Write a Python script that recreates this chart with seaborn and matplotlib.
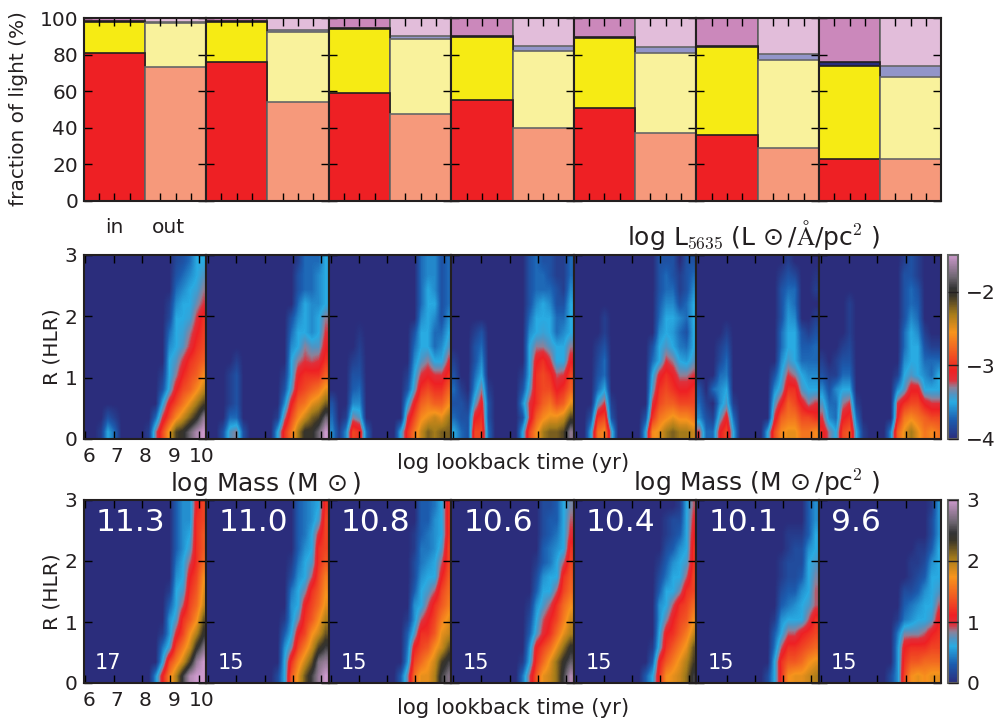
import matplotlib
matplotlib.use("Agg")
import matplotlib.pyplot as plt
import seaborn as sns
import numpy as np
from matplotlib.colors import LinearSegmentedColormap
from matplotlib.transforms import ScaledTranslation

# top row, cumulative top of each stacked class in %, one value per panel
RED_IN = [81, 76, 59, 55, 51, 36, 23]
YELLOW_IN = [98, 97.8, 94, 89.5, 89, 84, 74]
BLUE_IN = [98.4, 98.2, 94.6, 90.2, 89.8, 84.8, 76]
RED_OUT = [73, 54, 47.5, 40, 37, 29, 23]
YELLOW_OUT = [97, 92.3, 88.5, 82, 81, 77, 68]
BLUE_OUT = [97.6, 93.6, 90, 84.5, 84, 80.5, 74]
TOP = [100, 100, 100, 100, 100, 100, 100]

# log mass of each panel and number of galaxies
LOG_MASS = ["11.3", "11.0", "10.8", "10.6", "10.4", "10.1", "9.6"]
N_GAL = ["17", "15", "15", "15", "15", "15", "15"]

# log L maps, tenths of dex above -4, rows go up in R, columns go up in log age
L_1 = [
    [0,0,1,5,3,0,0,0,0,1,7,11,15,19,20,22,24,25],
    [0,0,0,2,1,0,0,0,0,0,3,8,11,14,16,18,20,23],
    [0,0,0,0,0,0,0,0,0,0,0,5,9,11,13,15,17,19],
    [0,0,0,0,0,0,0,0,0,0,0,2,5.5,9,11,12,14,16],
    [0,0,0,0,0,0,0,0,0,0,0,1,5,7,9.5,11,12,14],
    [0,0,0,0,0,0,0,0,0,0,0,0,5,6,8,10,11,12],
    [0,0,0,0,0,0,0,0,0,0,0,0,4,5,6,8,10,11],
    [0,0,0,0,0,0,0,0,0,0,0,0,3,5,5.5,7,9,10.5],
    [0,0,0,0,0,0,0,0,0,0,0,0,1.5,5,5,5.5,8,10],
    [0,0,0,0,0,0,0,0,0,0,0,0,1,4,5,5,6.5,8],
    [0,0,0,0,0,0,0,0,0,0,0,0,0,3,4,5,5.5,7],
    [0,0,0,0,0,0,0,0,0,0,0,0,0,2,3,4,5,6],
    [0,0,0,0,0,0,0,0,0,0,0,0,0,1.5,2,3,5,5],
]
L_2 = [
    [0,0,2,6,7,2,0,0,0,0,5,10,13,17,20,20,22,25],
    [0,0,0,3,3,0,0,0,0,0,1,7,11,14,16,18,19,22],
    [0,0,0,1,2,0,0,0,0,0,0,4,9,12,13,15,16,18],
    [0,0,0,1,2,0,0,0,0,0,0,2,6,10,11,12,13,15],
    [0,0,0,1,2,0,0,0,0,0,0,1,5,9,10,10,10,12],
    [0,0,0,0,1,0,0,0,0,0,0,0,5,7,8,7.5,8,10],
    [0,0,0,0,0,0,0,0,0,0,0,0,4,5,7,6,6,9],
    [0,0,0,0,0,0,0,0,0,0,0,0,3,5,5,4,5,8],
    [0,0,0,0,0,0,0,0,0,0,0,0,2,4,5,4,5,7],
    [0,0,0,0,0,0,0,0,0,0,0,0,0,3,5,4,4,5],
    [0,0,0,0,0,0,0,0,0,0,0,0,0,2,3,3,4,5],
    [0,0,0,0,0,0,0,0,0,0,0,0,0,2,3,3,4,5],
    [0,0,0,0,0,0,0,0,0,0,0,0,0,1,3,3,3,5],
]
L_3 = [
    [4,1,4,11,10,3,0,0,0,0,5,10,13,16,18,17,18,18],
    [3,0,1,7,6,0,0,0,0,0,0,8,11,14,15,16,15,17],
    [2,0,0,4,4,0,0,0,0,0,0,5,9,12,13,12,12,14],
    [0,0,0,2.5,3,0,0,0,0,0,0,2,6,10,11,10,10,12],
    [0,0,0,2,2,0,0,0,0,0,0,1,5,8,9,8,8,10],
    [0,0,0,1,1.5,0,0,0,0,0,0,0,4,6,7,5,5,8],
    [0,0,0,0,1,0,0,0,0,0,0,0,3,5,5,3,4,6],
    [0,0,0,0,0.5,0,0,0,0,0,0,0,2,5,5,3,3,5],
    [0,0,0,0,0,0,0,0,0,0,0,0,0,4,5,4,2,4],
    [0,0,0,0,0,0,0,0,0,0,0,0,0,3,5,5,2,3],
    [0,0,0,0,0,0,0,0,0,0,0,0,0,3,5,4,2,3],
    [0,0,0,0,0,0,0,0,0,0,0,0,0,3,4,4,2,3],
    [0,0,0,0,0,0,0,0,0,0,0,0,0,3,4,4,2,3],
]
L_4 = [
    [5,3,2,11,11,3,0,0,0,0,5,11,14,17,18,18,19,23],
    [3,2,2,9,10,2,0,0,0,0,2,8,12,14,15,15,16,19],
    [2,2,1,6,9,2,0,0,0,0,4,8,10,12,13,11,12,15],
    [3,1,0,4,7,1,0,0,0,0,2,6,10,11,11,9,10,12],
    [2,0,0,3,5,0,0,0,0,0,1,5,10,11,10,7.5,8,11],
    [1,0,0,2,4,0,0,0,0,0,0,5,9,10,8,5,5,9],
    [0,0,0,2,3,0,0,0,0,0,0,5,7,7,6,5,5,7],
    [0,0,0,1,2,0,0,0,0,0,0,4,5,5.5,5,3,4,5],
    [0,0,0,0,0,0,0,0,0,0,0,3,5,5,5,3,3,5],
    [0,0,0,0,0,0,0,0,0,0,0,2,4,5,4,2,2,5],
    [0,0,0,0,0,0,0,0,0,0,0,2,3,3,3,2,1,4],
    [0,0,0,0,0,0,0,0,0,0,0,2,3,3,2,1,1,3],
    [0,0,0,0,0,0,0,0,0,0,0,2,3,2,2,1,1,3],
]
L_5 = [
    [0,0,5,13,14,6,0,0,0,0,5,14,15,17,18,17,17,16],
    [0,0,2,10,11,2,0,0,0,0,2,10,13,14,15,14,14,13],
    [0,0,0,6,8,1,0,0,0,0,0,8,11,12,12,11,11,11],
    [0,0,0,3,5,0,0,0,0,0,0,6,10,11,10,9,9,10],
    [0,0,0,2,3,0,0,0,0,0,0,5,8.5,10,9,7,7,8],
    [0,0,0,1.5,3,0,0,0,0,0,0,3,5,8,7,5,4.5,6],
    [0,0,0,1,2,0,0,0,0,0,0,2,5,6,5,3.5,3,5],
    [0,0,0,0,1,0,0,0,0,0,0,0,4,5,4.5,3,2,5],
    [0,0,0,0,1,0,0,0,0,0,0,0,3,5,5,4,3,5],
    [0,0,0,0,0,0,0,0,0,0,0,0,2.5,4,4,2,3,5],
    [0,0,0,0,0,0,0,0,0,0,0,0,2,3,3,1,2,4],
    [0,0,0,0,0,0,0,0,0,0,0,0,2,3,2,1,2,3],
    [0,0,0,0,0,0,0,0,0,0,0,0,2,2,2,0,2,2],
]
L_6 = [
    [8,3,3,9,11,5,0,0,0,0,5,11,14,15,15,13,13,14],
    [4,2,1,6,9,3,0,0,0,0,0,8,12,13,13,11,11,10],
    [3,1,0,4,6,1,0,0,0,0,0,6,9,12,11,9,7,8],
    [2,0,3,4,5,0,0,0,0,0,0,4,6,10,10,6,5,5],
    [0,0,0,3,3.5,0,0,0,0,0,0,2,5,8,7,5,4,4],
    [0,0,0,1.5,3,0,0,0,0,0,0,0,4,6,5,3,3,3],
    [0,0,0,1,2,0,0,0,0,0,0,0,3,5,5,2.5,2.5,3],
    [0,0,0,0,1,0,0,0,0,0,0,0,3,5,5,2,1,2],
    [0,0,0,0,0,0,0,0,0,0,0,0,2,4.5,4,0,0,1],
    [0,0,0,0,0,0,0,0,0,0,0,0,2,4,3,0,0,0],
    [0,0,0,0,0,0,0,0,0,0,0,0,2,3,3,0,0,1],
    [0,0,0,0,0,0,0,0,0,0,0,0,1,2,1.5,0,0,0.5],
    [0,0,0,0,0,0,0,0,0,0,0,0,0,1,0,0,0,0],
]
L_7 = [
    [10,7,5,11,12,5,1,0,0,0,4,12,15,17,15,13,14,13],
    [8,4,3,9,10,3,0,0,0,0,0,9,13,14,13,12,11,11],
    [6,3,3,7,8,1,0,0,0,0,0,8,10,11,11,9,8,8],
    [4,2,4,5,5,0,0,0,0,0,0,4,6,9,9,5,5,5],
    [2,1,1,3,3,0,0,0,0,0,0,1,5,6,5,4,3,5],
    [1,0,1,2,2,0,0,0,0,0,0,0,4,5,5,3,3,3],
    [0,0,0,1,1.5,0,0,0,0,0,0,0,3,5,5,2,1,1],
    [0,0,0,0,1,0,0,0,0,0,0,0,3,5,4,1,0,0],
    [0,0,0,0,1,0,0,0,0,0,0,0,2,4,3,0,0,0],
    [0,0,0,0,1,0,0,0,0,0,0,0,2,3,2.5,0,0,0],
    [0,0,0,0,0,0,0,0,0,0,0,0,2,3,2,0,0,0],
    [0,0,0,0,0,0,0,0,0,0,0,0,2,2,1,0,0,0],
    [0,0,0,0,0,0,0,0,0,0,0,0,1,2,1,0,0,0],
]

# log mass density maps, tenths of dex, only the last 8 age columns are non zero
M_1 = [
    [5,11,16,20,25,29,30,30],
    [0,6,13,16,19,23,28,30],
    [0,4,7,13,16,19,24,27],
    [0,1,5,10,13,17,20,24],
    [0,0,5,7,12,14,17,22],
    [0,0,3,6,9,13,15,19],
    [0,0,1,6,7,12,14,18],
    [0,0,0,5,6,11,13,17],
    [0,0,0,4,6,9,12,15],
    [0,0,0,3,5,7,12,14],
    [0,0,0,3,5,6,12,14],
    [0,0,0,3,5,5,12,13],
    [0,0,0,3,5,5,11,13],
]
M_2 = [
    [2,6,14,18,22,25,28,30],
    [0,6,12,16,19,22,27,28],
    [0,5,8,13,16,19,23,25],
    [0,3,6,11,13,17,19,22],
    [0,1,5,8,12,14,17,20],
    [0,0,5,6,11,13,15,18],
    [0,0,4,6,8,12,14,17],
    [0,0,2,5,6,9,13,16],
    [0,0,1,4,6,7,12,14],
    [0,0,0,3,5,6,12,13],
    [0,0,0,3,4,6,10,13],
    [0,0,0,3,4,5,7,13],
    [0,0,0,3,4,5,6,12],
]
M_3 = [
    [3,8,15,18,18,20,25,27],
    [0,5,13,15,17,19,23,25],
    [0,4,11,13,14,17,19,22],
    [0,3,7,12,12,14,18,19],
    [0,1,5,9,11,13,16,18],
    [0,0,5,6,9,12,14,16],
    [0,0,3,6,7,9,13,15],
    [0,0,2,5,6,6,11,14],
    [0,0,2,4,5,6,9,13],
    [0,0,1,4,4,5,7,13],
    [0,0,1,3,4,5,6,12],
    [0,0,0,3,3,5,6,12],
    [0,0,0,3,3,4,6,12],
]
M_4 = [
    [4,9,14,18,19,21,25,29],
    [1,6,12,15,18,21,24,26],
    [0,5,11,13,15,18,21,24],
    [0,3,7,10,12,15,18,20],
    [0,2,6,9,11,13,16,19],
    [0,1,5,7,9,12,15,17],
    [0,0,3,6,6,9,13,15],
    [0,0,2,5,6,6,12,14],
    [0,0,1,3,4,6,9,13],
    [0,0,0,3,4,5,6,12],
    [0,0,0,2,3,4,6,10],
    [0,0,0,2,3,3,6,9],
    [0,0,0,2,2,3,6,8],
]
M_5 = [
    [3,6,12,17,18,19,21,25],
    [0,3,11,14,16,18,20,23],
    [0,1,7,12,14,16,18,22],
    [0,0,6,11,12,14,16,19],
    [0,0,5,8,11,13,14,17],
    [0,0,5,6,9,12,13,15],
    [0,0,3,6,6,8,12,13],
    [0,0,2,4,6,6,9,13],
    [0,0,1,3,5,6,7,12],
    [0,0,0,2,3,5,6,12],
    [0,0,0,1,2,3,6,11],
    [0,0,0,1,2,2,6,10],
    [0,0,0,0,0,1,6,9],
]
M_6 = [
    [2,6,12,17,18,18,19,20],
    [0,6,12,14,14,15,17,18],
    [0,4,9,12,12,13,14,15],
    [0,3,6,9,9,11,12,13],
    [0,1,5,6,6,6,9,12],
    [0,0,3,4,5,6,7,9],
    [0,0,2,3,3,5,6,9],
    [0,0,1,2,2,3,6,8],
    [0,0,1,2,2,2,6,7],
    [0,0,0,1,2,2,5,6],
    [0,0,0,1,1,1,3,6],
    [0,0,0,0,0,0,3,5],
    [0,0,0,0,0,0,3,5],
]
M_7 = [
    [2,5,13,17,18,17,18,18],
    [0,5,12,14,14,15,15,15],
    [0,5,11,12,12,12,13,13],
    [0,4,8,8,8,9,11,12],
    [0,1,4,5,6,6,7,11],
    [0,0,3,4,5,6,6,9],
    [0,0,2,2,3,5,6,7],
    [0,0,0,1,2,3,6,6],
    [0,0,0,1,1,2,5,6],
    [0,0,0,0,1,1,3,6],
    [0,0,0,0,0,0,2,5],
    [0,0,0,0,0,0,2,5],
    [0,0,0,0,0,0,1,5],
]

L_MAPS = [L_1, L_2, L_3, L_4, L_5, L_6, L_7]
M_MAPS = [M_1, M_2, M_3, M_4, M_5, M_6, M_7]

W, H = 1001, 722
DARK = "#231f20"
LEFT, PANEL_W = 83.6, 122.55
AGE_MIN, AGE_MAX = 5.933, 10.27
N_ROW, N_COL = 13, 18

sns.set_theme(style="ticks")
plt.rcParams.update({
    "font.family": "DejaVu Sans",
    "mathtext.fontset": "cm",
    "mathtext.default": "regular",
    "text.color": DARK,
    "axes.edgecolor": DARK,
    "axes.linewidth": 1.5,
    "axes.axisbelow": False,
    "xtick.color": "black",
    "ytick.color": "black",
    "xtick.labelcolor": DARK,
    "ytick.labelcolor": DARK,
})

cmap = LinearSegmentedColormap.from_list("sed", [
    (0.0, "#2b2d7c"), (0.1, "#1c5cae"), (0.2, "#29abe2"), (0.24, "#4f95c4"),
    (0.28, "#8d8199"), (0.32, "#e0303a"), (0.37, "#ee2024"), (0.47, "#f15a22"),
    (0.58, "#f7941d"), (0.68, "#a67c1a"), (0.78, "#3a3528"), (0.82, "#333333"),
    (0.88, "#6d6570"), (1.0, "#cc99cc"),
])


def make_axes(left, top, right, bottom):
    return fig.add_axes([left / W, 1 - bottom / H, (right - left) / W, (bottom - top) / H])


def draw_stack(ax, tops, color_in, color_out):
    sns.barplot(x=["in", "out"], y=tops, hue=["in", "out"], palette=[color_in, color_out],
                dodge=False, width=1, legend=False, ax=ax, saturation=1)


def set_ticks_in(ax):
    # seaborn leaves its own tick settings behind, so force them on both axes
    ax.set_axisbelow(False)
    ax.xaxis.set_ticks_position("both")
    ax.yaxis.set_ticks_position("both")
    ax.tick_params(axis="both", which="major", direction="in", length=6, width=1.0, color="black")
    for tick in ax.xaxis.get_major_ticks() + ax.yaxis.get_major_ticks():
        tick.tick1line.set_visible(True)
        tick.tick2line.set_visible(True)
        tick.tick1line.set_zorder(4)
        tick.tick2line.set_zorder(4)


def draw_map(ax, table, vmin, vmax, cbar_ax=None):
    sns.heatmap(table, ax=ax, cmap=cmap, vmin=vmin, vmax=vmax, cbar=cbar_ax is not None,
                cbar_ax=cbar_ax, xticklabels=False, yticklabels=False)
    # the published panels are smoothed, so lay the same table over with bilinear shading
    ax.imshow(table, cmap=cmap, vmin=vmin, vmax=vmax, origin="lower", aspect="auto",
              interpolation="bilinear", extent=(0, N_COL, 0, N_ROW), zorder=1.5)
    ax.set_xlim(0, N_COL)
    ax.set_ylim(0, N_ROW)
    for s in ax.spines.values():
        s.set_visible(True)
        s.set_linewidth(1.5)
        s.set_color(DARK)
        s.set_zorder(5)
    ages = [6, 7, 8, 9, 10]
    ax.set_xticks([(a - AGE_MIN) / (AGE_MAX - AGE_MIN) * N_COL for a in ages])
    ax.set_yticks([0, N_ROW / 3, 2 * N_ROW / 3, N_ROW])
    set_ticks_in(ax)
    ax.tick_params(labelbottom=False, labelleft=False, labeltop=False, labelright=False, labelsize=14.5)
    return ax.collections[0].colorbar


def style_colorbar(cb, ticks, labels):
    cb.set_ticks(ticks, labels=labels)
    cb.outline.set_visible(True)
    cb.outline.set_linewidth(1.5)
    cb.outline.set_edgecolor("#666666")
    cb.ax.set_axisbelow(False)
    cb.ax.tick_params(direction="in", length=7.4, width=1.0, color=DARK, labelsize=14.5, pad=6,
                      right=True, left=False)


def label_first_map(ax):
    ax.tick_params(labelbottom=True, labelleft=True, pad=4.5)
    ax.tick_params(axis="x", pad=6)
    ax.set_xticklabels(["6", "7", "8", "9", "10"])
    ax.set_yticklabels(["0", "1", "2", "3"])
    shift = ScaledTranslation(2.5 / 72, 0, fig.dpi_scale_trans)
    for lab in ax.get_xticklabels():
        lab.set_transform(lab.get_transform() + shift)


fig = plt.figure(figsize=(W / 100, H / 100), dpi=100)

# stacked bars
for i in range(7):
    x0 = LEFT + i * PANEL_W
    ax = make_axes(x0, 18, x0 + PANEL_W, 201)
    draw_stack(ax, [TOP[i], TOP[i]], "#cb88bb", "#e2bdda")
    draw_stack(ax, [BLUE_IN[i], BLUE_OUT[i]], "#2b2d7c", "#9295c9")
    draw_stack(ax, [YELLOW_IN[i], YELLOW_OUT[i]], "#f6eb14", "#f9f29c")
    draw_stack(ax, [RED_IN[i], RED_OUT[i]], "#ee2024", "#f6997b")
    for p in ax.patches:
        inner = p.get_x() + p.get_width() / 2 < 0.5
        p.set_edgecolor(DARK if inner else "#666666")
        p.set_linewidth(1.2)
    ax.set_xlim(-0.5, 1.5)
    ax.set_ylim(0, 100)
    ax.set_xlabel("")
    ax.set_ylabel("")
    ax.set_xticks([-0.25, 0, 0.25, 0.75, 1, 1.25])
    ax.set_xticklabels([])
    ax.set_yticks([0, 20, 40, 60, 80, 100])
    set_ticks_in(ax)
    ax.tick_params(labelsize=14.5, pad=4, labelright=False, labeltop=False)
    if i > 0:
        ax.set_yticklabels([])
    for s in ax.spines.values():
        s.set_visible(True)
        s.set_linewidth(1.5)
        s.set_zorder(5)

# maps
cax_l = make_axes(948, 255, 958, 439)
cax_m = make_axes(948, 500, 958, 683)
for i in range(7):
    x0 = LEFT + i * PANEL_W

    ax = make_axes(x0, 255, x0 + PANEL_W, 439)
    table = np.array(L_MAPS[i], dtype=float) / 10 - 4
    cb_l = draw_map(ax, table, -4, -1.5, cax_l if i == 6 else None)
    if i == 0:
        label_first_map(ax)

    ax = make_axes(x0, 500, x0 + PANEL_W, 683)
    table = np.array(M_MAPS[i], dtype=float) / 10
    table = np.hstack([np.zeros((N_ROW, N_COL - table.shape[1])), table])
    cb_m = draw_map(ax, table, 0, 3, cax_m if i == 6 else None)
    if i == 0:
        label_first_map(ax)

    fig.text((x0 + 12) / W, 1 - 531 / H, LOG_MASS[i], color="white", fontsize=22.5, zorder=10)
    fig.text((x0 + 11.5) / W, 1 - 669 / H, N_GAL[i], color="white", fontsize=15, zorder=10)

style_colorbar(cb_l, [-4, -3, -2], ["\u22124", "\u22123", "\u22122"])
style_colorbar(cb_m, [0, 1, 2, 3], ["0", "1", "2", "3"])

# labels
fig.text(19 / W, 1 - 109 / H, "fraction of light (%)", rotation=90, ha="center", va="center", fontsize=14.4)
fig.text(52 / W, 1 - 347 / H, "R (HLR)", rotation=90, ha="center", va="center", fontsize=14.5)
fig.text(52 / W, 1 - 592 / H, "R (HLR)", rotation=90, ha="center", va="center", fontsize=14.5)
fig.text(114 / W, 1 - 233 / H, "in", ha="center", va="baseline", fontsize=14.5)
fig.text(168 / W, 1 - 233 / H, "out", ha="center", va="baseline", fontsize=14.5)
fig.text(513 / W, 1 - 463 / H, "log lookback time (yr)", ha="center", va="center", fontsize=15.3)
fig.text(513 / W, 1 - 708 / H, "log lookback time (yr)", ha="center", va="center", fontsize=15.3)
fig.text(753 / W, 1 - 245 / H, r"log L$_{\mathrm{5635}}$ (L$\,\odot$/$\mathrm{\AA}$/pc$^{\mathrm{2}}$ )", ha="center", va="baseline", fontsize=18)
fig.text(265.5 / W, 1 - 491 / H, r"log Mass (M$\,\odot$)", ha="center", va="baseline", fontsize=18)
fig.text(756.5 / W, 1 - 491 / H, r"log Mass (M$\,\odot$/pc$^{\mathrm{2}}$ )", ha="center", va="baseline", fontsize=18)

fig.savefig("out.png", dpi=100)
